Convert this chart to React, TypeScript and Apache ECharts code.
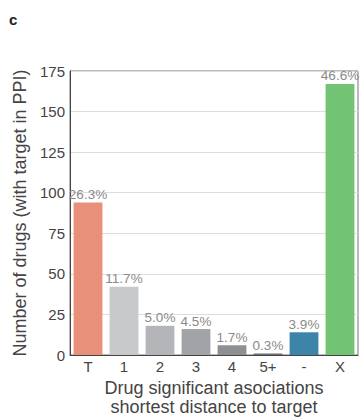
import React, { useEffect, useRef } from "react";
import * as echarts from "echarts";

// Drugs per shortest-distance class (significant associations)
const categories = ["T", "1", "2", "3", "4", "5+", "-", "X"];
const drugCounts = [94, 42, 18, 16, 6, 1, 14, 167];
const barColors = [
  "#E8907A",
  "#C8C9CB",
  "#B4B5B8",
  "#A2A3A7",
  "#8E8F93",
  "#6E6F73",
  "#3D84AB",
  "#72C373",
];
const yTicks = { min: 0, max: 175, interval: 25 };

const FONT = "'Liberation Sans', Arial, Helvetica, sans-serif";

export default function App() {
  const ref = useRef<HTMLDivElement>(null);

  useEffect(() => {
    document.body.style.margin = "0";
    if (!ref.current) return;
    const chart = echarts.init(ref.current, null, { renderer: "svg" });
    const total = drugCounts.reduce((a, b) => a + b, 0);

    chart.setOption({
      animation: false,
      textStyle: { fontFamily: FONT },
      grid: {
        left: 70,
        right: 3,
        top: 71,
        bottom: 65,
        show: true,
        borderColor: "#777",
        borderWidth: 1,
        outerBoundsMode: "none",
      },
      graphic: [
        {
          type: "text",
          left: 9,
          top: 12,
          style: {
            text: "c",
            font: `bold 15px ${FONT}`,
            fill: "#222",
          },
        },
      ],
      xAxis: {
        type: "category",
        data: categories,
        axisLine: { lineStyle: { color: "#444", width: 1 } },
        axisTick: { show: false },
        axisLabel: { fontSize: 15, color: "#444", margin: 4 },
        name: "Drug significant asociations\nshortest distance to target",
        nameLocation: "middle",
        nameGap: 22,
        nameTextStyle: { fontSize: 18, color: "#444", lineHeight: 19 },
      },
      yAxis: {
        type: "value",
        min: yTicks.min,
        max: yTicks.max,
        interval: yTicks.interval,
        axisLine: { show: true, lineStyle: { color: "#444", width: 1 } },
        axisTick: { show: false },
        axisLabel: { fontSize: 15, color: "#444", margin: 5 },
        splitLine: { lineStyle: { color: "#DDDDDD", width: 1 } },
        name: "Number of drugs (with target in PPI)",
        nameLocation: "middle",
        nameGap: 41,
        nameTextStyle: { fontSize: 18, color: "#444" },
      },
      series: [
        {
          type: "bar",
          barCategoryGap: "20%",
          data: drugCounts.map((v, i) => ({
            value: v,
            itemStyle: { color: barColors[i] },
          })),
          label: {
            show: true,
            position: "top",
            distance: 1,
            fontSize: 13.5,
            color: "#8A8A8A",
            formatter: (p: any) => ((p.value / total) * 100).toFixed(1) + "%",
          },
        },
      ],
    });

    return () => chart.dispose();
  }, []);

  return <div ref={ref} style={{ width: 361, height: 420 }} />;
}
